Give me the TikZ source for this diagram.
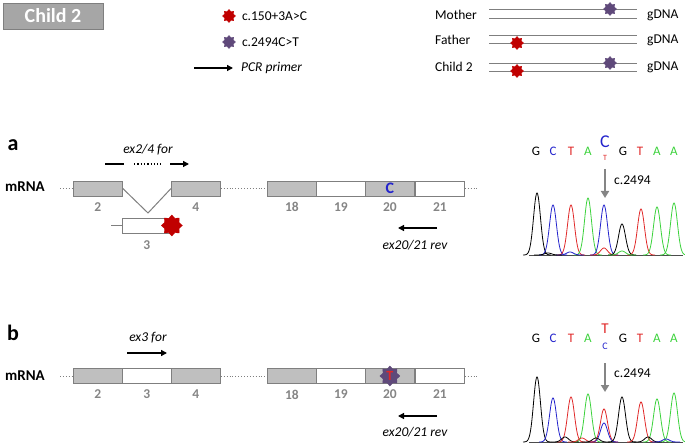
\documentclass[tikz,border=0pt]{standalone}
\usepackage{fontspec}
\setmainfont{Carlito}
\usepackage{xcolor}
\usetikzlibrary{arrows.meta,positioning,shapes.geometric}
\definecolor{mutred}{HTML}{C00000}
\definecolor{mutpurple}{HTML}{5F497A}
\definecolor{exgray}{HTML}{BFBFBF}
\definecolor{exdraw}{HTML}{7F7F7F}
\definecolor{numgray}{HTML}{858585}
\definecolor{hdrgray}{HTML}{A6A6A6}
\definecolor{seqblue}{HTML}{2323CC}
\definecolor{seqred}{HTML}{E02828}
\definecolor{seqgreen}{HTML}{3CD23C}
\tikzset{
  exon/.style={draw=exdraw,fill=exgray,line width=0.8pt,minimum width=49pt,minimum height=15pt,inner sep=0pt,anchor=west},
  exonw/.style={exon,fill=white},
  exnum/.style={font=\fontsize{13.5}{15}\selectfont\bfseries,text=numgray,inner sep=1pt},
  txt/.style={font=\fontsize{13.5}{16}\selectfont,inner sep=1pt},
  itxt/.style={txt,font=\fontsize{13.5}{16}\selectfont\itshape},
  hdr/.style={draw=exdraw,fill=hdrgray,text=white,minimum width=100pt,minimum height=26pt,font=\fontsize{20}{24}\selectfont\bfseries},
  pnl/.style={font=\fontsize{22}{26}\selectfont\bfseries,inner sep=0pt},
  mrna/.style={font=\fontsize{15}{18}\selectfont\bfseries,inner sep=0pt},
  seq/.style={font=\fontsize{13}{15}\selectfont,inner sep=0pt},
  mut/.style={star,star points=8,star point ratio=1.35,minimum size=13pt,inner sep=0pt},
  redmut/.style={mut,fill=mutred,draw=mutred},
  purmut/.style={mut,fill=mutpurple,draw=mutpurple},
  dotln/.style={exdraw,dotted,line width=0.9pt},
  intron/.style={exdraw,line width=1pt},
  gline/.style={exdraw,line width=0.8pt},
  arr/.style={-{Triangle[length=6pt,width=6pt]},line width=1.3pt},
  garr/.style={-{Triangle[length=7pt,width=8pt]},line width=2pt,numgray},
  trace/.style={line width=0.8pt}
}

\begin{document}
\begin{tikzpicture}[x=1pt,y=-1pt,node distance=5pt]
  \useasboundingbox (0,0) rectangle (685,446);

  % header and legend
  \node[hdr] (hdr) at (53,16) {Child 2};
  \node[redmut] (lred) at (229,16) {};
  \node[txt,right=5pt of lred] (lredtxt) {c.150+3A>C};
  \node[purmut] (lpur) at (229,42) {};
  \node[txt,right=5pt of lpur] (lpurtxt) {c.2494C>T};
  \coordinate (pcrA) at (194,68);
  \coordinate (pcrB) at (233,68);
  \draw[arr] (pcrA) -- (pcrB);
  \node[itxt,right=7pt of pcrB] (pcrtxt) {PCR primer};

  % gDNA strands
  \foreach \wy/\la/\lb/\who [count=\i] in {15/9/18/Mother,40/35/43/Father,67/63/71/Child 2} {
    \node[txt,anchor=west] (who\i) at (434,\wy) {\who};
    \node[txt,anchor=west] (gd\i) at (646,\wy) {gDNA};
    \draw[gline] (489,\la) -- (637,\la);
    \draw[gline] (489,\lb) -- (637,\lb);
  }
  \node[purmut] (mmut) at (610,9) {};
  \node[redmut] (fmut) at (517,43) {};
  \node[purmut] (cmut1) at (610,63) {};
  \node[redmut] (cmut2) at (517,71) {};

  % panel a: mRNA with exon 3 skipped
  \node[pnl] (pa) at (13,145) {a};
  \node[mrna] (mrnaa) at (25,187) {mRNA};
  \node[exon] (a2) at (73,188.5) {};
  \node[exon] (a4) at (171,188.5) {};
  \node[exon] (a18) at (267,188.5) {};
  \node[exonw] (a19) at (316,188.5) {};
  \node[exon,font=\fontsize{16}{18}\selectfont\bfseries,text=seqblue] (a20) at (365,188.5) {C};
  \node[exonw] (a21) at (415,188.5) {};
  \coordinate (a0) at (60,188.5);
  \coordinate (aend) at (477,188.5);
  \draw[dotln] (a0) -- (a2.west);
  \draw[dotln] (a4.east) -- (a18.west);
  \draw[dotln] (a21.east) -- (aend);
  \coordinate (avtip) at (148,213);
  \draw[intron] (a2.east) -- (avtip) -- (a4.west);
  \node[exonw] (a3) at (122,225.5) {};
  \coordinate (astub) at (111,225.5);
  \draw[intron] (astub) -- (a3.west);
  \node[redmut,minimum size=21pt] (a3mut) at (a3.east) {};
  \foreach \e in {2,4,18,19,20,21}
    \node[exnum,below=5pt of a\e] (na\e) {\e};
  \node[exnum,below=6pt of a3] (na3) {3};

  % primers a
  \node[itxt] (pfa) at (148,150) {ex2/4 for};
  \coordinate (pfa1) at (105,164); \coordinate (pfa2) at (124,164);
  \coordinate (pfa3) at (134,164); \coordinate (pfa4) at (161,164);
  \coordinate (pfa5) at (170,164); \coordinate (pfa6) at (189,164);
  \draw[line width=1.3pt] (pfa1) -- (pfa2);
  \draw[line width=1.3pt,dotted] (pfa3) -- (pfa4);
  \draw[arr] (pfa5) -- (pfa6);
  \coordinate (pra1) at (437,228); \coordinate (pra2) at (398,228);
  \draw[arr] (pra1) -- (pra2);
  \node[itxt] (prat) at (415,245) {ex20/21 rev};

  % chromatogram a
  \foreach \sx/\sb/\sc [count=\i] in {536/G/black,553/C/seqblue,571/T/seqred,588/A/seqgreen,623/G/black,640/T/seqred,657/A/seqgreen,674/A/seqgreen}
    \node[seq,text=\sc] (sqa\i) at (\sx,151) {\sb};
  \node[seq,font=\fontsize{18}{20}\selectfont,text=seqblue] (sqac) at (605,142) {C};
  \node[seq,font=\fontsize{8}{9}\selectfont,text=seqred] (sqat) at (605,157.5) {T};
  \coordinate (gaa) at (605,169); \coordinate (gab) at (605,198);
  \draw[garr] (gaa) -- (gab);
  \node[txt,anchor=west] (posa) at (613,180) {c.2494};
  \draw[black!70,line width=0.6pt] (529,255) -- (683,255);
  \foreach \pkx/\pky/\pkc in {537/193/black,553/205/seqblue,571/205/seqred,588/198/seqgreen,604/205/seqblue,604/248/seqred,622/224/black,641/209/seqred,657/207/seqgreen,674/203/seqgreen,622/251/seqgreen,570/252/seqblue,548/253/black}
    \draw[\pkc,trace] plot[domain=\pkx-14:\pkx+14,samples=45,smooth] (\x,{255-(255-\pky)*exp(-((\x-\pkx)/4.9)^2)});

  % panel b: full-length mRNA
  \node[pnl] (pb) at (13,333) {b};
  \node[mrna] (mrnab) at (25,376) {mRNA};
  \node[exon] (b2) at (73,376) {};
  \node[exonw] (b3) at (122,376) {};
  \node[exon] (b4) at (171,376) {};
  \node[exon] (b18) at (267,376) {};
  \node[exonw] (b19) at (316,376) {};
  \node[exon] (b20) at (365,376) {};
  \node[exonw] (b21) at (415,376) {};
  \coordinate (b0) at (60,376);
  \coordinate (bend) at (477,376);
  \draw[dotln] (b0) -- (b2.west);
  \draw[dotln] (b4.east) -- (b18.west);
  \draw[dotln] (b21.east) -- (bend);
  \node[purmut,minimum size=20pt,text=seqred,font=\fontsize{14}{16}\selectfont\bfseries] (b20mut) at (b20.center) {T};
  \foreach \e in {2,3,4,18,19,20,21}
    \node[exnum,below=5pt of b\e] (nb\e) {\e};

  % primers b
  \node[itxt] (pfb) at (148,338) {ex3 for};
  \coordinate (pfb1) at (127,353); \coordinate (pfb2) at (167,353);
  \draw[arr] (pfb1) -- (pfb2);
  \coordinate (prb1) at (437,416); \coordinate (prb2) at (398,416);
  \draw[arr] (prb1) -- (prb2);
  \node[itxt] (prbt) at (415,432) {ex20/21 rev};

  % chromatogram b
  \foreach \sx/\sb/\sc [count=\i] in {536/G/black,553/C/seqblue,571/T/seqred,588/A/seqgreen,623/G/black,640/T/seqred,657/A/seqgreen,674/A/seqgreen}
    \node[seq,text=\sc] (sqb\i) at (\sx,338) {\sb};
  \node[seq,font=\fontsize{15}{17}\selectfont,text=seqred] (sqbt) at (605,329) {T};
  \node[seq,font=\fontsize{10}{11}\selectfont,text=seqblue] (sqbc) at (605,346) {C};
  \coordinate (gba) at (605,363); \coordinate (gbb) at (605,392);
  \draw[garr] (gba) -- (gbb);
  \node[txt,anchor=west] (posb) at (613,373) {c.2494};
  \draw[black!70,line width=0.6pt] (529,442) -- (683,442);
  \foreach \pkx/\pky/\pkc in {537/377/black,553/398/seqblue,571/397/seqred,588/394/seqgreen,604/409/seqred,604/423/seqblue,622/397/black,641/402/seqred,657/399/seqgreen,674/393/seqgreen,565/437/black,582/438/seqred,596/438/black,648/437/black,666/439/seqblue}
    \draw[\pkc,trace] plot[domain=\pkx-14:\pkx+14,samples=45,smooth] (\x,{442-(442-\pky)*exp(-((\x-\pkx)/4.9)^2)});
\end{tikzpicture}
\end{document}
